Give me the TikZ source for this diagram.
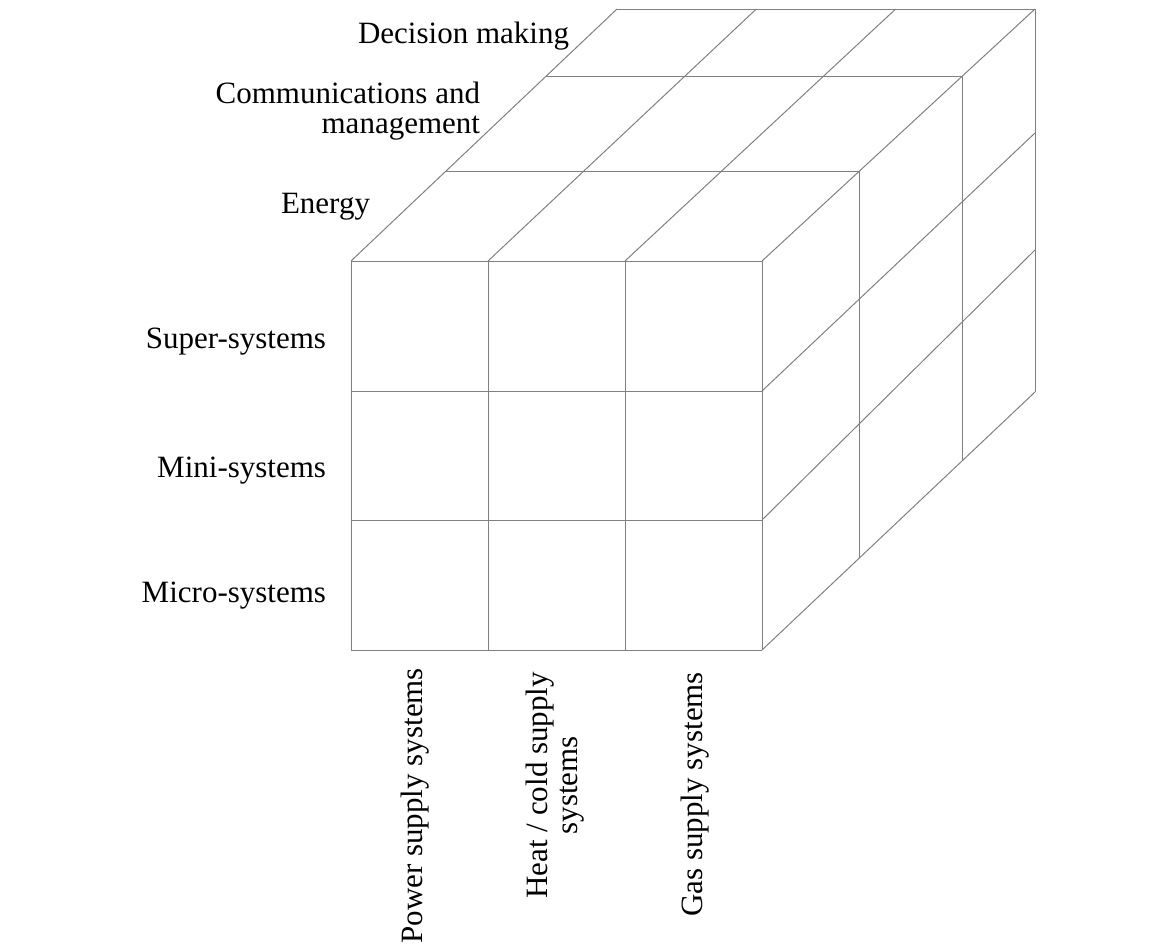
\documentclass[tikz,border=0pt]{standalone}
\usepackage{fontspec}
\setmainfont{Liberation Serif}
\usetikzlibrary{calc}
\definecolor{linegray}{RGB}{128,128,128}
\begin{document}
\begin{tikzpicture}[x=1pt,y=-1pt,
  grid/.style={draw=linegray, line width=1pt},
  lbl/.style={font=\fontsize{31}{30}\selectfont, inner sep=0pt, outer sep=0pt, text=black}]
\useasboundingbox (0,0) rectangle (1165,946);
% corners
\coordinate (FTL) at (351,261);
\coordinate (FTR) at (762,261);
\coordinate (FBL) at (351,650);
\coordinate (FBR) at (762,650);
\coordinate (BTL) at (617,9);
\coordinate (BTR) at (1035,9);
\coordinate (BBR) at (1035,392);
% front face
\foreach \x in {351,488,625,762} \draw[grid] (\x,261) -- (\x,650);
\foreach \y in {261,391,520,650} \draw[grid] (351,\y) -- (762,\y);
% top face
\foreach \i in {0,1,2,3} \draw[grid] ($(FTL)!\i/3!(FTR)$) -- ($(BTL)!\i/3!(BTR)$);
\foreach \t in {0.357,0.734,1} \draw[grid] ($(FTL)!\t!(BTL)$) -- ($(FTR)!\t!(BTR)$);
% right face
\draw[grid] (762,391) -- (1035,133);
\draw[grid] (762,520) -- (1035,250);
\draw[grid] (FBR) -- (BBR);
\foreach \t in {0.357,0.734,1} \draw[grid] ($(FTR)!\t!(BTR)$) -- ($(FBR)!\t!(BBR)$);
% labels
\node[lbl, anchor=base east] (dec) at (569,43) {Decision making};
\node[lbl, anchor=base east, align=right] (com) at (480,133) {Communications and\\management};
\node[lbl, anchor=base east] (ene) at (370,213) {Energy};
\node[lbl, anchor=base east] (sup) at (326,348) {Super-systems};
\node[lbl, anchor=base east] (min) at (326,477) {Mini-systems};
\node[lbl, anchor=base east] (mic) at (326,602) {Micro-systems};
\node[lbl, anchor=base east, rotate=90] (pow) at (422,668) {Power supply systems};
\node[lbl, anchor=base east, rotate=90, align=center] (hea) at (577,672) {Heat / cold supply\\systems};
\node[lbl, anchor=base east, rotate=90] (gas) at (702,672) {Gas supply systems};
\end{tikzpicture}
\end{document}
